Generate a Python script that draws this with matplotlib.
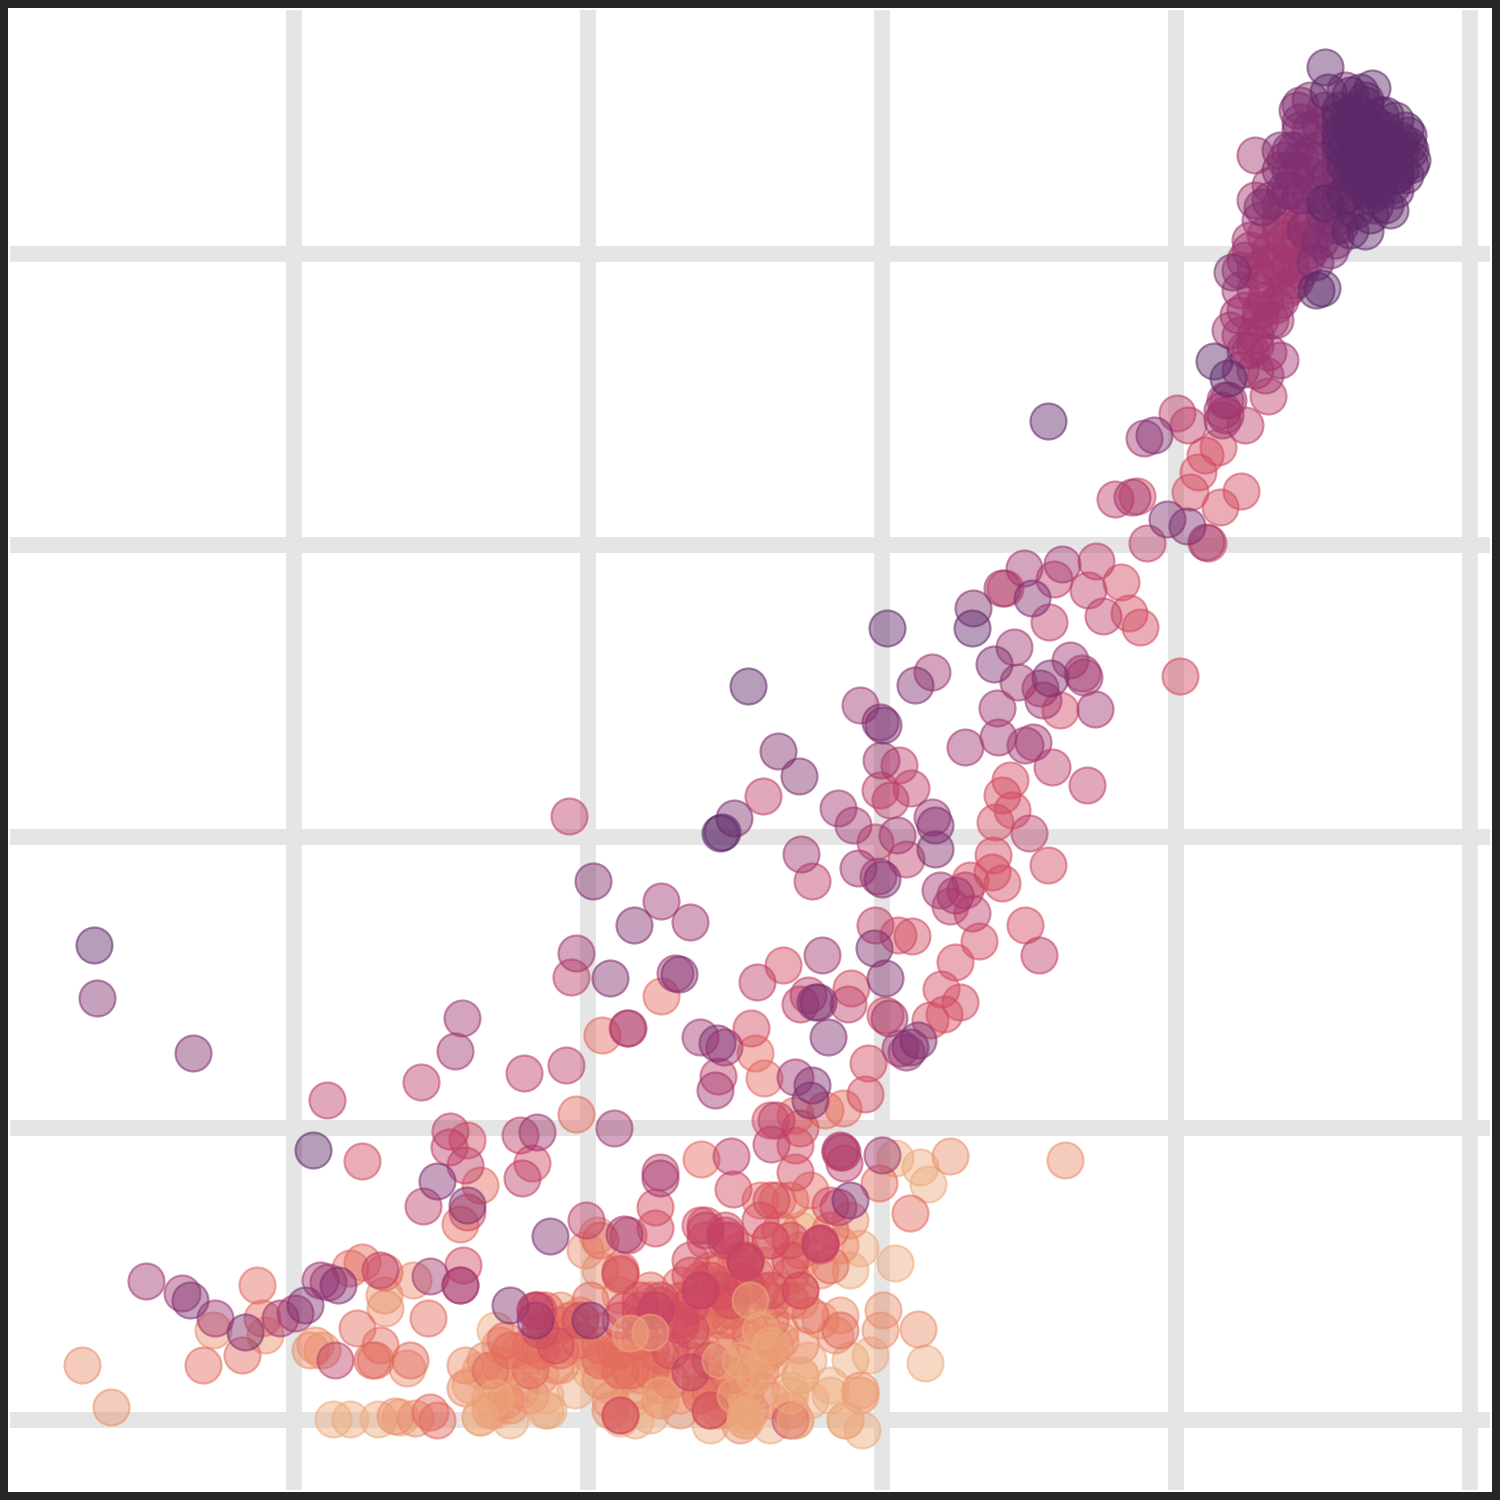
import matplotlib
matplotlib.use("Agg")
import matplotlib.pyplot as plt
from matplotlib.patches import Rectangle
import seaborn as sns

x_grid = [294, 588, 882, 1176, 1470]
y_grid = [254, 545, 837, 1128, 1420]

# hue level -> readings (x, then y on a downward running scale)
light_x = [495,490,480,510,548,575,520,505,470,480,500,495,545,590,610,630,660,650,620,635,710,745,770,795,830,860,845,862,790,750,770,775,755,740,745,735,730,800,810,860,850,895,925,870,850,808,800,810,830,333,350,378,400,895,920,928]
light_y = [1330,1398,1417,1420,1410,1390,1370,1365,1385,1370,1385,1410,1395,1370,1385,1400,1395,1415,1418,1420,1425,1420,1425,1420,1395,1395,1420,1430,1390,1380,1350,1345,1345,1360,1395,1400,1380,1230,1225,1248,1270,1263,1363,1355,1360,1360,1375,1400,1385,1419,1419,1419,1417,1158,1167,1184]

orange_x = [82,111,213,265,384,385,413,310,315,322,407,395,415,950,1065,883,880,918,465,465,485,500,520,540,555,570,590,600,615,640,660,680,700,720,735,760,780,800,820,840,860,585,597,600,620,760,780,800,820,840,850,835,720,700,680,660,610,580,530,510,490,
            750,770,740,730,750,770,790,740,760,720,700,680,660,640,600,610,590,610,625,640,560,520,500,530,545,560,505,780,760,800,720,700]
orange_y = [1365,1407,1330,1335,1295,1308,1280,1350,1345,1350,1368,1416,1418,1156,1160,1310,1330,1329,1388,1365,1360,1345,1350,1375,1365,1345,1350,1330,1365,1375,1385,1350,1370,1410,1340,1370,1330,1300,1320,1315,1390,1250,1235,1270,1295,1320,1290,1260,1270,1245,1220,1335,1320,1390,1410,1370,1410,1315,1395,1405,1410,
            1340,1360,1375,1395,1410,1400,1410,1425,1390,1400,1380,1395,1400,1390,1380,1400,1355,1360,1375,1360,1365,1390,1365,1355,1340,1310,1400,1340,1360,1345,1370,1345]

salmon_x = [350,362,384,380,375,372,410,357,428,430,437,242,257,262,203,576,602,661,755,764,843,825,795,480,460,701,879,910,777,760,600,620,560,540,530,545,570,590,620,650,670,690,710,730,750,770,790,810,830,640,660,680,700,720,740,760,700,730,770,800,620,545,505,685,710,740,650,615,
            720,680,700,660,640,620,600,580,560,530,510,490,730,750,720,690,670,650,620,600,710,730,770,790,810,840,735,765,800,780,830,710,650,630,
            755,740,720,700,680,745,770,715,735,790]
salmon_y = [1268,1262,1272,1345,1360,1360,1360,1328,1318,1412,1420,1355,1285,1318,1365,1114,1035,996,1053,1078,1108,1110,1115,1185,1224,1159,1183,1213,1200,1200,1240,1270,1325,1350,1345,1330,1320,1300,1275,1300,1320,1340,1310,1295,1290,1240,1200,1190,1230,1340,1355,1310,1280,1270,1250,1290,1395,1310,1350,1290,1415,1310,1340,1300,1410,1260,1290,1350,
            1300,1300,1320,1320,1340,1350,1360,1340,1350,1370,1350,1370,1320,1330,1350,1360,1380,1370,1370,1345,1390,1375,1320,1300,1315,1330,1290,1265,1250,1230,1265,1270,1350,1370,
            1275,1280,1285,1300,1285,1305,1300,1315,1265,1275]

rose_x = [1010,1060,1048,1002,1025,979,955,960,944,930,868,865,800,795,1180,1140,1241,1220,1198,1190,1205,1218,1137,1208,1121,1129,1012,995,992,993,970,912,898,783,851,941,885,627,751,467,362,463,467,538,628,655,655,830,733,795,771,770,532,640,690,710,700,725,745,730,760,790,820,640,680,660,620,690,1002,1005,
          705,705,690,730,725,745,770,700,660,640,625,680,720,745,770,790,820,800,535,540,555,620,580,650,690,670,710,790,710,620]
rose_y = [780,710,865,795,925,941,962,1002,1014,1020,1063,1094,1128,1172,676,627,491,507,472,492,455,447,496,543,582,613,810,822,872,855,880,936,935,965,988,989,1015,1028,1028,1140,1161,1265,1212,1310,1235,1228,1207,1205,1189,1145,1200,1120,1163,1310,1305,1280,1225,1240,1260,1300,1220,1240,1245,1325,1325,1300,1320,1275,883,588,
          1225,1240,1260,1240,1230,1260,1290,1290,1305,1300,1310,1320,1290,1285,1240,1260,1243,1290,1310,1330,1345,1273,1320,1330,1330,1350,1360,1420,1410,1415]

pink_x = [1177,1188,1115,1147,1096,1088,1054,1103,1049,1087,1052,899,911,890,880,875,763,569,1029,906,812,875,571,757,808,848,800,771,718,524,566,421,327,449,520,450,731,844,838,465,522,423,586,660,380,460,335,1268,1245,950,972,965,1039,776]
pink_y = [413,425,499,543,561,590,579,616,622,785,767,765,788,800,790,842,796,816,833,859,881,925,977,982,995,1004,1004,1144,1076,1073,1065,1082,1100,1147,1135,1131,1156,1163,1207,1165,1178,1206,1220,1172,1270,1285,1360,396,425,906,913,890,955,1120]

plum_x = [1225,1222,1144,1132,1062,1024,1002,1014,1070,932,1018,1040,1082,1084,997,1043,1095,860,965,998,1025,1033,881,853,838,932,897,801,858,878,690,576,661,822,675,700,724,900,906,889,462,455,146,182,215,320,328,280,295,430,460,624,614,537,795,842,840,882,660,1255,1280,1265,1250,1290,1310,1300,1280,1265,1255,1240,1245,1285,1275,1260,1240,1255,1250,1268,1230,1238,1265,1280,940,955,1206,628,715,
          1270,1285,1300,1315,1310,1295,1280,1260,1245,1295,1280,1265,1255,1290,1305,1270,1245,1255,1240,1228,1222,1225,1255,
          1285,1295,1310,1270,1255,1300,1280,1265,1275,1250,1240,1290,1275,1260]
plum_y = [400,420,438,497,564,568,588,647,660,672,682,688,673,677,708,700,709,705,747,737,745,742,760,825,808,817,835,854,868,876,922,953,901,955,973,1037,1047,1048,1052,1018,1018,1051,1281,1293,1318,1280,1282,1318,1313,1276,1285,1234,1128,1132,1077,1152,1150,1155,1178,155,220,235,250,245,250,270,270,265,270,290,310,290,305,320,335,335,350,352,330,315,375,360,890,895,542,1028,1090,
          250,240,240,235,215,210,205,220,260,280,300,300,290,265,260,320,350,345,370,400,410,415,370,
          160,175,160,185,200,225,230,280,260,240,270,285,320,310]

purple_x = [1154,1167,1187,1032,973,994,915,1050,880,883,778,799,734,935,935,882,593,634,610,874,679,818,815,828,717,193,97,812,810,338,305,437,467,190,245,885,918,910,850,550,510,590,535,1310,1300,1297,1320,1330,1315,1300,1280,1290,1310,1330,1340,1320,1345,1335,1305,1300,1285,1270,1262,1335,1330,1315,1232,
            1290,1310,1325,1300,1320,1340,1325,1310,1290,1340,1340,1295,1280,1325,1340,1355,1340,1330,1320,1350,1365,1375,1335,1300,1345]
purple_y = [435,519,526,598,608,664,685,678,722,725,751,776,818,825,849,879,881,925,978,948,974,1002,1002,1037,1043,1053,998,1085,1100,1285,1305,1181,1205,1300,1332,978,1040,1047,1200,1236,1305,1320,1320,100,122,110,125,140,150,160,170,150,175,175,200,195,215,240,230,195,190,200,207,225,250,262,272,
            170,130,110,130,160,170,215,195,190,130,180,150,150,180,155,190,225,200,240,165,190,205,120,105,90]

dark_x = [722,720,94,313,887,748,972,1048,1214,1228,1325,1360,1372,1328,1355,1340,1365,1380,1395,1405,1408,1412,1405,1395,1385,1370,1390,1365,1368,1350,1340,1360,1375,1390,1395,1380,1365,1350,1345,1370,1355,1400,1385,1370,1350,1410,1408,1392,1378,1325,1350,1316,1322,1360,1375,1390,1400,1370,1355,1345,1385,1395,1365,
          1340,1355,1375,1385,1400,1375,1355,1365,1345,1360,1395,1385,1375,1410,1355,1370,1340,1385,1365,1350]
dark_y = [832,833,945,1150,628,686,628,421,361,378,67,92,88,92,110,110,105,115,120,130,145,160,175,190,205,215,210,231,130,130,145,150,150,140,160,175,170,175,195,195,210,150,130,120,95,165,135,185,190,203,230,290,288,120,135,155,170,160,135,165,145,175,185,
          120,125,125,150,140,165,150,140,150,180,175,165,140,150,165,180,135,115,100,115]

top_light_x = [630,650,660,745,750,770,740,795,860,845,480,495,545,755,770,735,790,745,720,800,760]
top_light_y = [1333,1332,1395,1420,1300,1350,1360,1420,1395,1420,1417,1398,1410,1375,1345,1395,1395,1415,1360,1375,1330]
top_mix_x = [690,705,725,745,700,535,840,820,655]
top_mix_y = [1372,1230,1235,1262,1290,1310,1152,1243,1310]

groups = [
    (light_x, light_y, 0.02),
    (orange_x, orange_y, 0.14),
    (salmon_x, salmon_y, 0.28),
    (rose_x, rose_y, 0.42),
    (pink_x, pink_y, 0.52),
    (plum_x, plum_y, 0.64),
    (purple_x, purple_y, 0.78),
    (dark_x, dark_y, 0.92),
    (top_mix_x, top_mix_y, 0.5),
    (top_light_x, top_light_y, 0.03),
]

cmap = sns.color_palette("flare", as_cmap=True)

fig = plt.figure(figsize=(5, 5), dpi=300, facecolor="#262626")
fig.add_artist(Rectangle((8/1500, 8/1500), 1484/1500, 1484/1500, transform=fig.transFigure,
                         facecolor="white", edgecolor="none", zorder=-5))
ax = fig.add_axes([10/1500, 10/1500, 1480/1500, 1480/1500])
ax.patch.set_visible(False)
ax.set_xlim(10, 1490)
ax.set_ylim(1490, 10)
for s in ax.spines.values():
    s.set_visible(False)
ax.set_xticks(x_grid)
ax.set_yticks(y_grid)
ax.tick_params(length=0, labelbottom=False, labelleft=False)
ax.grid(True, color="#e5e5e5", linewidth=16 * 72 / 300)
ax.set_axisbelow(True)

for gx, gy, hue in groups:
    col = cmap(hue)
    ax.scatter(gx, gy, s=(36 * 72 / 300) ** 2, facecolor=(*col[:3], 0.45),
               edgecolor=(*col[:3], 0.55), linewidth=2.2 * 72 / 300)

fig.savefig("out.png", dpi=300, facecolor=fig.get_facecolor())
